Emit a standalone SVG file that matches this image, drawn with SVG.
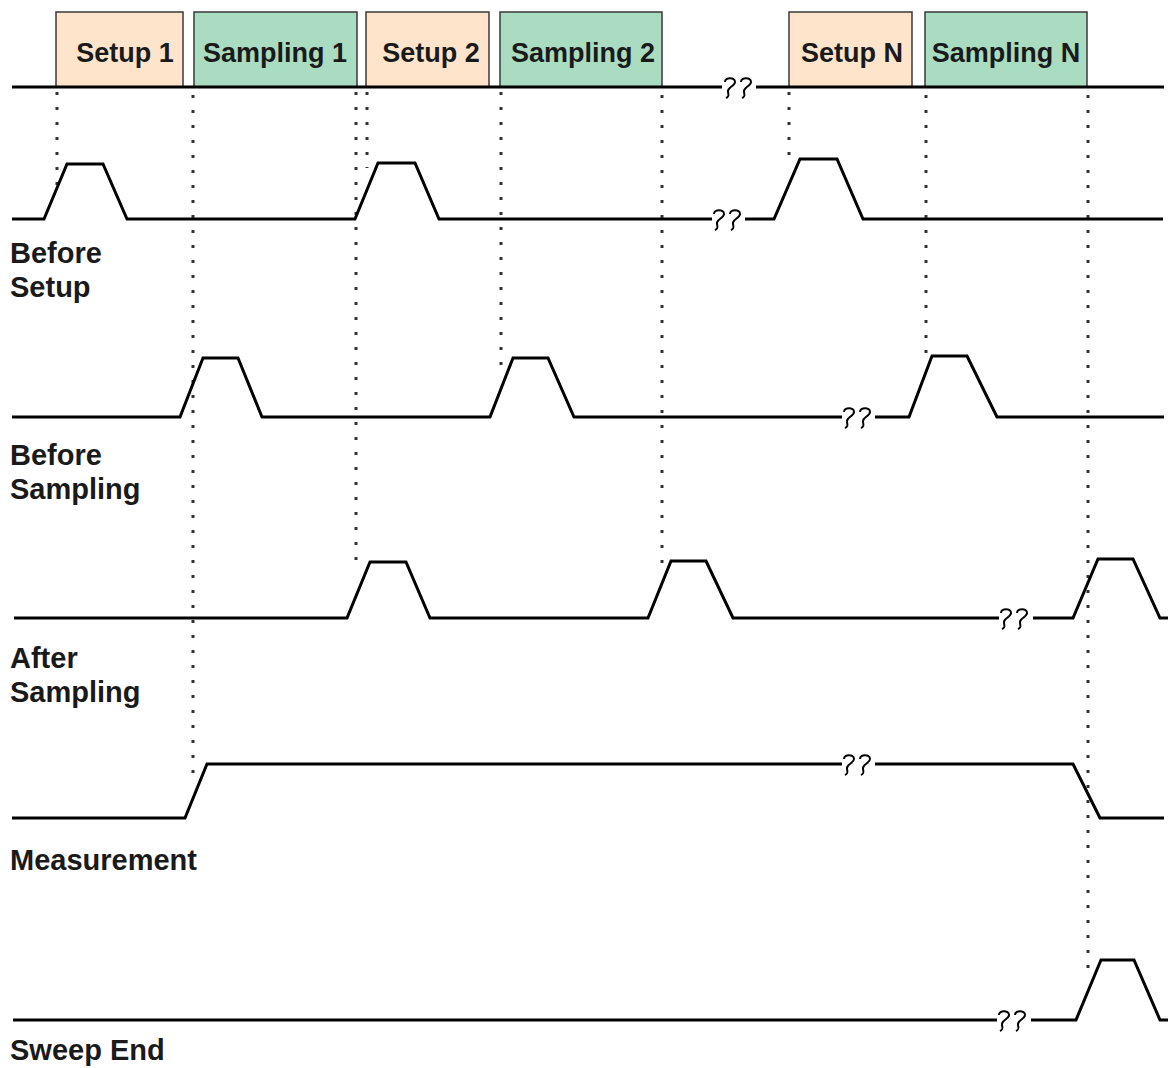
<svg xmlns="http://www.w3.org/2000/svg" width="1176" height="1068" viewBox="0 0 1176 1068">
<style>
.bg{fill:#ffffff}
.setup{fill:#fde4cb;stroke:#3a3a3a;stroke-width:1.5}
.samp{fill:#a9dcc1;stroke:#3a3a3a;stroke-width:1.5}
.lbl{font-family:"Liberation Sans",Arial,sans-serif;font-weight:bold;font-size:29px;fill:#1a1a1a}
.box{font-family:"Liberation Sans",Arial,sans-serif;font-weight:bold;font-size:27px;fill:#1a1a1a;text-anchor:middle}
.sig{fill:none;stroke:#000;stroke-width:3;stroke-linejoin:miter}
.dot{fill:none;stroke:#333;stroke-width:3;stroke-dasharray:3 12}
.brk{fill:none;stroke:#000;stroke-width:2}
</style>
<defs>
<g id="brk">
<path class="brk" d="M2,-5 C2,-10 12,-10 12,-5 C12,-1 5,0 5,4 C5,8 7,9 3,11"/>
<path class="brk" d="M18,-5 C18,-10 28,-10 28,-5 C28,-1 21,0 21,4 C21,8 23,9 19,11"/>
</g>
</defs>
<rect class="bg" x="0" y="0" width="1176" height="1068"/>

<g id="phase-boxes">
<g id="setup1"><rect class="setup" x="56" y="12" width="127" height="75"/><text class="box" x="125" y="62">Setup 1</text></g>
<g id="sampling1"><rect class="samp" x="194" y="12" width="163" height="75"/><text class="box" x="275" y="62">Sampling 1</text></g>
<g id="setup2"><rect class="setup" x="366" y="12" width="123" height="75"/><text class="box" x="431" y="62">Setup 2</text></g>
<g id="sampling2"><rect class="samp" x="500" y="12" width="162" height="75"/><text class="box" x="583" y="62">Sampling 2</text></g>
<g id="setupN"><rect class="setup" x="789" y="12" width="123" height="75"/><text class="box" x="852" y="62">Setup N</text></g>
<g id="samplingN"><rect class="samp" x="925" y="12" width="162" height="75"/><text class="box" x="1006" y="62">Sampling N</text></g>
</g>

<g id="connectors">
<line class="dot" x1="57" y1="92" x2="57" y2="186"/>
<line class="dot" x1="193" y1="95" x2="193" y2="775"/>
<line class="dot" x1="356" y1="92" x2="356" y2="566"/>
<line class="dot" x1="367" y1="92" x2="367" y2="168"/>
<line class="dot" x1="501" y1="92" x2="501" y2="368"/>
<line class="dot" x1="662" y1="95" x2="662" y2="566"/>
<line class="dot" x1="789" y1="92" x2="789" y2="165"/>
<line class="dot" x1="926" y1="95" x2="926" y2="362"/>
<line class="dot" x1="1088" y1="95" x2="1088" y2="980"/>

<polyline class="sig" points="12,87 722,87"/>
<use href="#brk" x="723" y="87"/>
<polyline class="sig" points="756,87 1164,87"/>

<polyline class="sig" points="12,219 44,219 67,164 103,164 127,219 355,219 378,163 415,163 439,219 712,219"/>
<use href="#brk" x="712" y="219"/>
<polyline class="sig" points="745,219 774,219 800,159 837,159 863,219 1163,219"/>

<polyline class="sig" points="12,417 180,417 203,358 238,358 262,417 490,417 513,358 548,358 574,417 842,417"/>
<use href="#brk" x="842" y="417"/>
<polyline class="sig" points="875,417 909,417 932,356 967,356 997,417 1164,417"/>

<polyline class="sig" points="14,618 347,618 370,562 406,562 430,618 648,618 671,561 706,561 733,618 999,618"/>
<use href="#brk" x="999" y="618"/>
<polyline class="sig" points="1033,618 1073,618 1098,559 1133,559 1160,618 1168,618"/>

<polyline class="sig" points="12,818 185,818 207,764 842,764"/>
<use href="#brk" x="842" y="764"/>
<polyline class="sig" points="875,764 1073,764 1100,818 1164,818"/>

<polyline class="sig" points="13,1020 997,1020"/>
<use href="#brk" x="997" y="1020"/>
<polyline class="sig" points="1031,1020 1076,1020 1101,960 1134,960 1160,1020 1168,1020"/>
</g>

<g id="labels">
<g id="lbl-before-setup"><text class="lbl" x="10" y="263">Before</text><text class="lbl" x="10" y="297">Setup</text></g>
<g id="lbl-before-sampling"><text class="lbl" x="10" y="465">Before</text><text class="lbl" x="10" y="499">Sampling</text></g>
<g id="lbl-after-sampling"><text class="lbl" x="10" y="668">After</text><text class="lbl" x="10" y="702">Sampling</text></g>
<g id="lbl-measurement"><text class="lbl" x="10" y="870">Measurement</text></g>
<g id="lbl-sweep-end"><text class="lbl" x="10" y="1060">Sweep End</text></g>
</g>
</svg>
